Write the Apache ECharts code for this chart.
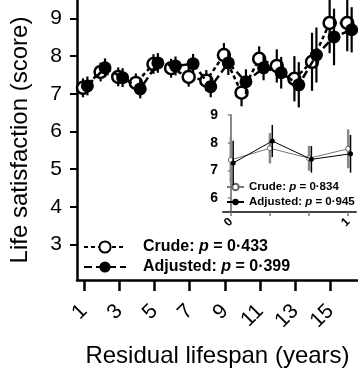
<!DOCTYPE html>
<html>
<head>
<meta charset="utf-8">
<script src="https://cdn.jsdelivr.net/npm/echarts@6/dist/echarts.min.js"></script>
<style>
  html, body { margin: 0; padding: 0; background: #fff; }
  #chart { width: 358px; height: 373px; }
</style>
</head>
<body>
<div id="chart"></div>
<script>
// main panel: life satisfaction by residual lifespan
const years = [1, 2, 3, 4, 5, 6, 7, 8, 9, 10, 11, 12, 13, 14, 15, 16];
const yearTicks = [1, 3, 5, 7, 9, 11, 13, 15];
const scoreTicks = [3, 4, 5, 6, 7, 8, 9];
const crudeMean = [7.16, 7.58, 7.45, 7.29, 7.79, 7.68, 7.45, 7.35, 8.03, 7.03, 7.93, 7.74, 7.40, 7.85, 8.88, 8.88];
const crudeErr = [0.25, 0.25, 0.25, 0.25, 0.26, 0.25, 0.26, 0.28, 0.32, 0.36, 0.33, 0.44, 0.6, 0.77, 0.8, 0.75];
const adjMean = [7.21, 7.69, 7.43, 7.13, 7.82, 7.74, 7.80, 7.19, 7.82, 7.32, 7.69, 7.56, 7.24, 8.03, 8.51, 8.70];
const adjErr = [0.25, 0.25, 0.25, 0.25, 0.26, 0.25, 0.26, 0.28, 0.32, 0.33, 0.33, 0.42, 0.6, 0.73, 0.75, 0.6];
const seriesNames = ["Crude", "Adjusted"];
const mainP = ["0·433", "0·399"];

// inset panel
const insetX = [0, 1, 2, 3];
const insetTickLabels = ["0", "", "", "1"];
const insetScoreTicks = [6, 7, 8, 9];
const insetCrude = [7.38, 7.80, 7.44, 7.78];
const insetCrudeErr = [0.82, 0.55, 0.45, 0.7];
const insetAdj = [7.27, 8.06, 7.40, 7.60];
const insetAdjErr = [0.8, 0.58, 0.48, 0.68];
const insetP = ["0·834", "0·945"];

const FONT = "'Liberation Sans', Arial, sans-serif";
const crudeShift = -0.05;
const adjShift = 0.2;
const insetShift = 0.06;

const chart = echarts.init(document.getElementById("chart"));

const pts = (xs, ys, shift) => xs.map((x, i) => [x + shift, ys[i]]);
const errPts = (xs, ys, es, shift) => xs.map((x, i) => [x + shift, ys[i], es[i]]);

const errorBars = (color, width) => (params, api) => {
    const x = api.value(0);
    const v = api.value(1);
    const e = api.value(2);
    const top = api.coord([x, v + e]);
    const bot = api.coord([x, v - e]);
    return {
        type: "line",
        shape: { x1: top[0], y1: top[1], x2: bot[0], y2: bot[1] },
        style: { stroke: color, lineWidth: width },
    };
};

const legendFmt = (pvals) => (name) => {
    const idx = name.startsWith("Crude") ? 0 : 1;
    return "{t|" + seriesNames[idx] + ": }{p|p}{t| = " + pvals[idx] + "}";
};

chart.setOption({
    animation: false,
    textStyle: { fontFamily: FONT },
    grid: [
        { left: 73, top: 0, width: 285, height: 281 },
        { left: 223, top: 115, width: 133, height: 97 },
    ],
    xAxis: [
        {
            gridIndex: 0,
            type: "value",
            min: 0.61,
            max: 16.56,
            name: "Residual lifespan (years)",
            nameLocation: "middle",
            nameGap: 64,
            nameTextStyle: { fontSize: 24, color: "#000", fontFamily: FONT },
            axisLine: { onZero: false, lineStyle: { color: "#000", width: 2.5 } },
            axisTick: { customValues: yearTicks, length: 11, lineStyle: { color: "#000", width: 2.5 } },
            axisLabel: { customValues: yearTicks, rotate: 45, margin: 28, fontSize: 21, color: "#000", fontFamily: FONT },
            splitLine: { show: false },
        },
        {
            gridIndex: 1,
            type: "value",
            min: -0.2,
            max: 3.2,
            axisLine: { onZero: false, lineStyle: { color: "#444", width: 2 } },
            axisTick: { customValues: insetX, length: 4, lineStyle: { color: "#777", width: 1.5 } },
            axisLabel: {
                customValues: insetX,
                formatter: (v) => insetTickLabels[insetX.indexOf(v)],
                rotate: 45, margin: 8, fontSize: 12, fontWeight: "bold", color: "#000", fontFamily: FONT,
            },
            splitLine: { show: false },
        },
    ],
    yAxis: [
        {
            gridIndex: 0,
            type: "value",
            min: 2.06,
            max: 9.49,
            name: "Life satisfaction (score)",
            nameLocation: "middle",
            nameGap: 45,
            nameTextStyle: { fontSize: 24, color: "#000", fontFamily: FONT },
            axisLine: { lineStyle: { color: "#000", width: 2.5 } },
            axisTick: { customValues: scoreTicks, length: 7, lineStyle: { color: "#000", width: 2 } },
            axisLabel: { customValues: scoreTicks, margin: 15, fontSize: 21, color: "#000", fontFamily: FONT },
            splitLine: { show: false },
        },
        {
            gridIndex: 1,
            type: "value",
            min: 5.5,
            max: 9,
            axisLine: { lineStyle: { color: "#888", width: 2 } },
            axisTick: { customValues: insetScoreTicks, length: 3, lineStyle: { color: "#888", width: 1.5 } },
            axisLabel: { customValues: insetScoreTicks, margin: 5, fontSize: 14, fontWeight: "bold", color: "#000", fontFamily: FONT },
            splitLine: { show: false },
        },
    ],
    legend: [
        {
            data: ["Crude", "Adjusted"],
            orient: "vertical",
            left: 78,
            top: 234,
            itemWidth: 42,
            itemHeight: 14,
            itemGap: 4,
            formatter: legendFmt(mainP),
            textStyle: {
                padding: [0, 0, 0, 12],
                rich: {
                    t: { fontSize: 16, fontWeight: "bold", color: "#000", fontFamily: FONT },
                    p: { fontSize: 16, fontWeight: "bold", fontStyle: "italic", color: "#000", fontFamily: FONT },
                },
            },
        },
        {
            data: ["Crude inset", "Adjusted inset"],
            orient: "vertical",
            left: 221,
            top: 176,
            itemWidth: 17,
            itemHeight: 8,
            itemGap: 3,
            formatter: legendFmt(insetP),
            textStyle: {
                rich: {
                    t: { fontSize: 11.5, fontWeight: "bold", color: "#000", fontFamily: FONT },
                    p: { fontSize: 11.5, fontWeight: "bold", fontStyle: "italic", color: "#000", fontFamily: FONT },
                },
            },
        },
    ],
    series: [
        {
            type: "custom", name: "crude err", xAxisIndex: 0, yAxisIndex: 0, clip: true,
            renderItem: errorBars("#000", 2.2), data: errPts(years, crudeMean, crudeErr, crudeShift), z: 2,
        },
        {
            type: "line", name: "Crude", xAxisIndex: 0, yAxisIndex: 0,
            data: pts(years, crudeMean, crudeShift),
            symbol: "circle", symbolSize: 12,
            itemStyle: { color: "#fff", borderColor: "#000", borderWidth: 2.5 },
            lineStyle: { color: "#000", width: 2.5, type: [4, 3] },
            z: 3,
        },
        {
            type: "custom", name: "adj err", xAxisIndex: 0, yAxisIndex: 0, clip: true,
            renderItem: errorBars("#000", 2.2), data: errPts(years, adjMean, adjErr, adjShift), z: 4,
        },
        {
            type: "line", name: "Adjusted", xAxisIndex: 0, yAxisIndex: 0,
            data: pts(years, adjMean, adjShift),
            symbol: "circle", symbolSize: 13,
            itemStyle: { color: "#000", borderColor: "#000", borderWidth: 0 },
            lineStyle: { color: "#000", width: 2.5, type: [8, 4] },
            z: 5,
        },
        {
            type: "custom", name: "inset crude err", xAxisIndex: 1, yAxisIndex: 1,
            renderItem: errorBars("#888", 2.5), data: errPts(insetX, insetCrude, insetCrudeErr, 0), z: 2,
        },
        {
            type: "line", name: "Crude inset", xAxisIndex: 1, yAxisIndex: 1,
            data: pts(insetX, insetCrude, 0),
            symbol: "circle", symbolSize: 5,
            itemStyle: { color: "#fff", borderColor: "#666", borderWidth: 1 },
            lineStyle: { color: "#777", width: 1 },
            z: 3,
        },
        {
            type: "custom", name: "inset adj err", xAxisIndex: 1, yAxisIndex: 1,
            renderItem: errorBars("#000", 1.5), data: errPts(insetX, insetAdj, insetAdjErr, insetShift), z: 4,
        },
        {
            type: "line", name: "Adjusted inset", xAxisIndex: 1, yAxisIndex: 1,
            data: pts(insetX, insetAdj, insetShift),
            symbol: "circle", symbolSize: 5,
            itemStyle: { color: "#000" },
            lineStyle: { color: "#000", width: 1 },
            z: 5,
        },
    ],
});
</script>
</body>
</html>
